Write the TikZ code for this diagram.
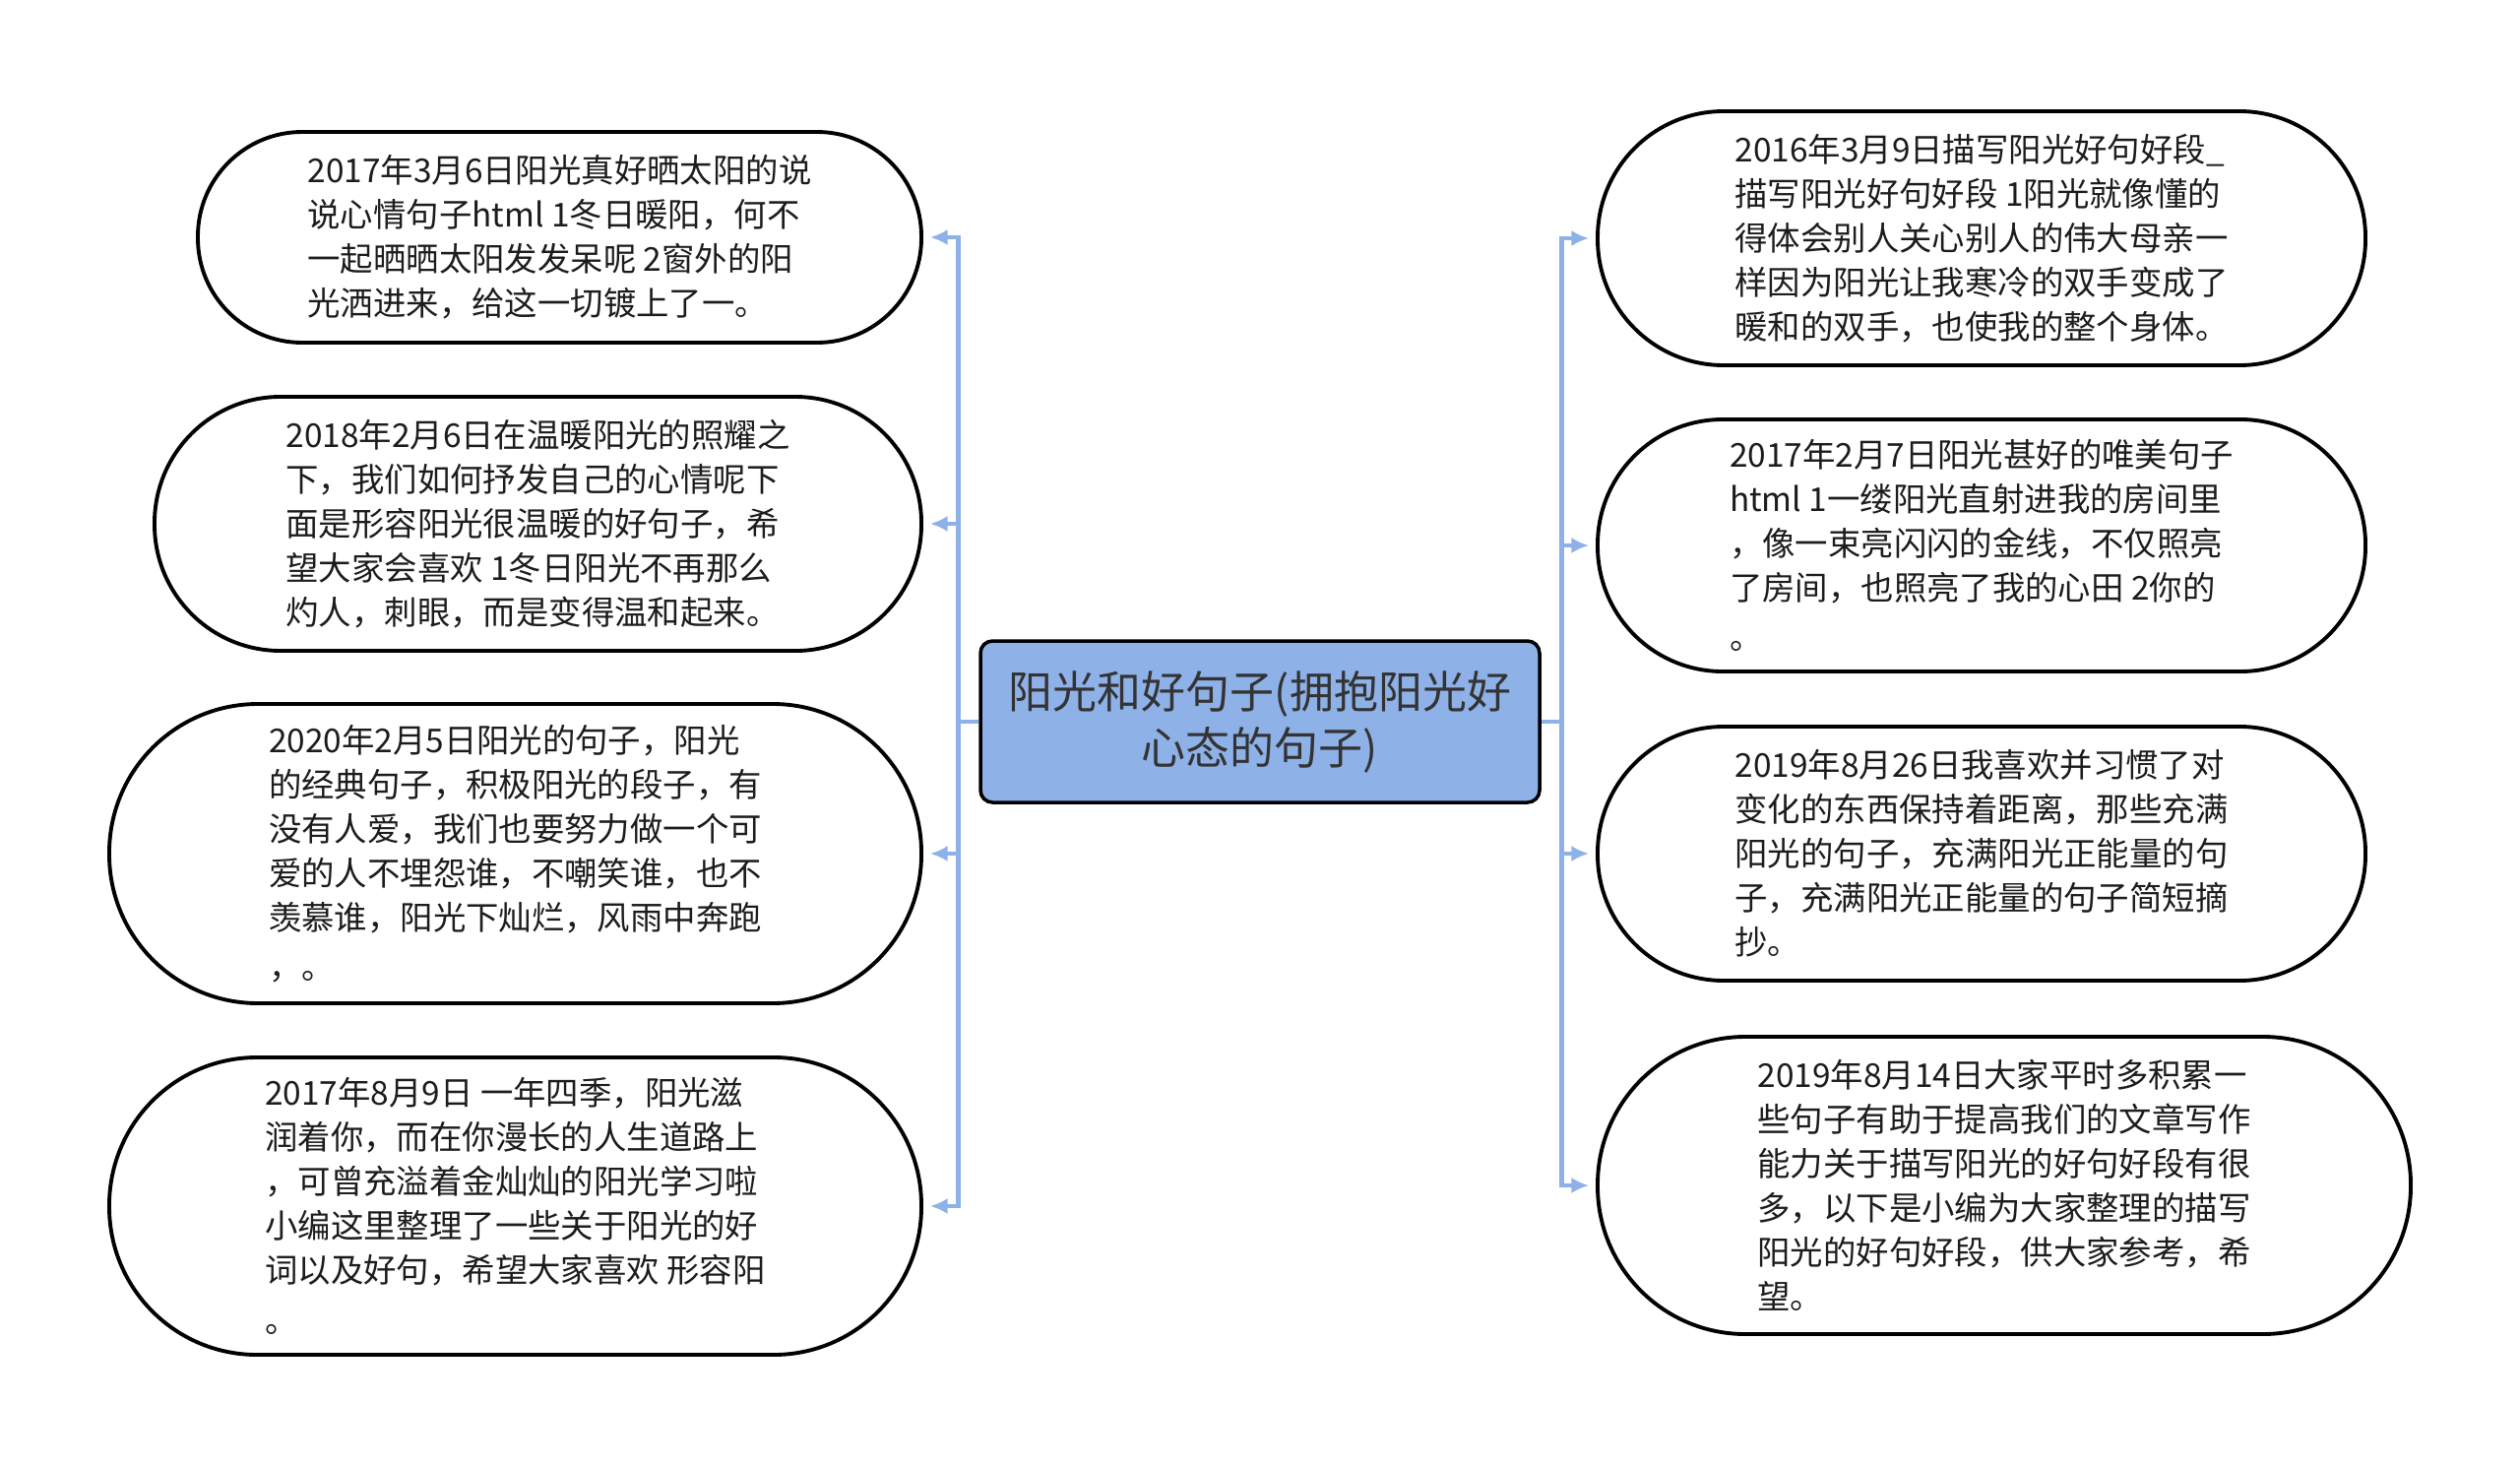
\documentclass[tikz,border=0pt]{standalone}
\usepackage{fontspec}
\setmainfont{Noto Sans CJK SC}
\usetikzlibrary{arrows.meta}

\definecolor{sunblue}{RGB}{142,177,232}
\definecolor{ink}{RGB}{28,28,28}
\definecolor{topicink}{RGB}{51,51,51}

\begin{document}
\begin{tikzpicture}[
  topic/.style={
      rectangle,
      draw,
      line width=1pt,
      rounded corners=3.5pt,
      fill=sunblue,
      text=topicink,
      align=center,
      minimum width=5.68cm,
      minimum height=1.64cm,
      font=\fontsize{12.8pt}{16.2pt}\selectfont
  },
  bubble/.style={
      rectangle,
      draw,
      line width=1.1pt,
      fill=white,
      text=ink,
      align=left,
      font=\fontsize{9.5pt}{12.8pt}\selectfont
  },
  link/.style={
      -{Latex[length=5pt,width=4.6pt]},
      draw=sunblue,
      line width=1.3pt,
      shorten >=2pt
  }
]

\useasboundingbox (0,0) rectangle (25.6,-14.89);

% ==================================================
% Central Topic
% ==================================================

\node[topic] (topic) at (12.80,-7.33)
      {阳光和好句子(拥抱阳光好\\心态的句子)};

% ==================================================
% Left Branch
% ==================================================

\node[bubble,
      minimum width=7.35cm,
      minimum height=2.14cm,
      rounded corners=1.06cm]
      (l1) at (5.685,-2.41)
      {2017年3月6日阳光真好晒太阳的说\\
       说心情句子html 1冬日暖阳，何不\\
       一起晒晒太阳发发呆呢 2窗外的阳\\
       光洒进来，给这一切镀上了一。};

\node[bubble,
      minimum width=7.79cm,
      minimum height=2.58cm,
      rounded corners=1.28cm]
      (l2) at (5.465,-5.32)
      {2018年2月6日在温暖阳光的照耀之\\
       下，我们如何抒发自己的心情呢下\\
       面是形容阳光很温暖的好句子，希\\
       望大家会喜欢 1冬日阳光不再那么\\
       灼人，刺眼，而是变得温和起来。};

\node[bubble,
      minimum width=8.25cm,
      minimum height=3.04cm,
      rounded corners=1.51cm]
      (l3) at (5.235,-8.67)
      {2020年2月5日阳光的句子，阳光\\
       的经典句子，积极阳光的段子，有\\
       没有人爱，我们也要努力做一个可\\
       爱的人不埋怨谁，不嘲笑谁，也不\\
       羡慕谁，阳光下灿烂，风雨中奔跑\\[1.5pt]
       ，。};

\node[bubble,
      minimum width=8.25cm,
      minimum height=3.02cm,
      rounded corners=1.50cm]
      (l4) at (5.235,-12.25)
      {2017年8月9日 一年四季，阳光滋\\
       润着你，而在你漫长的人生道路上\\
       ，可曾充溢着金灿灿的阳光学习啦\\
       小编这里整理了一些关于阳光的好\\
       词以及好句，希望大家喜欢 形容阳\\[1.5pt]
       。};

% ==================================================
% Right Branch
% ==================================================

\node[bubble,
      minimum width=7.80cm,
      minimum height=2.58cm,
      rounded corners=1.28cm]
      (r1) at (20.13,-2.42)
      {2016年3月9日描写阳光好句好段\_\\
       描写阳光好句好段 1阳光就像懂的\\
       得体会别人关心别人的伟大母亲一\\
       样因为阳光让我寒冷的双手变成了\\
       暖和的双手，也使我的整个身体。};

\node[bubble,
      minimum width=7.80cm,
      minimum height=2.56cm,
      rounded corners=1.27cm]
      (r2) at (20.13,-5.54)
      {2017年2月7日阳光甚好的唯美句子\\
       html 1一缕阳光直射进我的房间里\\
       ，像一束亮闪闪的金线，不仅照亮\\
       了房间，也照亮了我的心田 2你的\\[1.5pt]
       。};

\node[bubble,
      minimum width=7.80cm,
      minimum height=2.58cm,
      rounded corners=1.28cm]
      (r3) at (20.13,-8.67)
      {2019年8月26日我喜欢并习惯了对\\
       变化的东西保持着距离，那些充满\\
       阳光的句子，充满阳光正能量的句\\
       子，充满阳光正能量的句子简短摘\\
       抄。};

\node[bubble,
      minimum width=8.26cm,
      minimum height=3.02cm,
      rounded corners=1.50cm]
      (r4) at (20.36,-12.04)
      {2019年8月14日大家平时多积累一\\
       些句子有助于提高我们的文章写作\\
       能力关于描写阳光的好句好段有很\\
       多，以下是小编为大家整理的描写\\
       阳光的好句好段，供大家参考，希\\
       望。};

% ==================================================
% Links
% ==================================================

\draw[link] (topic.west) -- ++(-0.21,0) |- (l1.east);
\draw[link] (topic.west) -- ++(-0.21,0) |- (l2.east);
\draw[link] (topic.west) -- ++(-0.21,0) |- (l3.east);
\draw[link] (topic.west) -- ++(-0.21,0) |- (l4.east);

\draw[link] (topic.east) -- ++(0.21,0) |- (r1.west);
\draw[link] (topic.east) -- ++(0.21,0) |- (r2.west);
\draw[link] (topic.east) -- ++(0.21,0) |- (r3.west);
\draw[link] (topic.east) -- ++(0.21,0) |- (r4.west);

\end{tikzpicture}
\end{document}
